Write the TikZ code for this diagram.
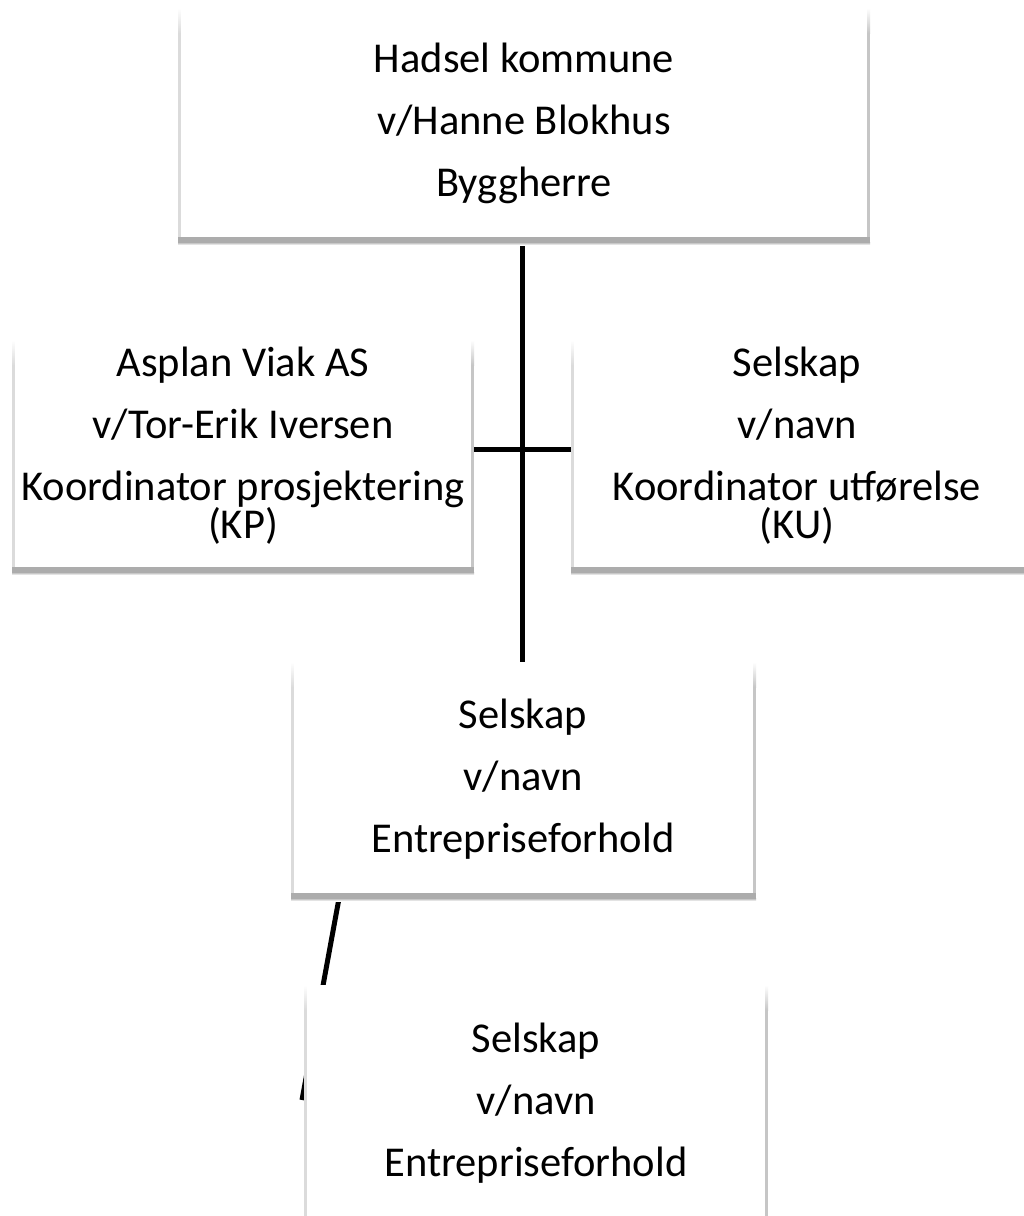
\documentclass[tikz,border=0pt]{standalone}
\usepackage{fontspec}
\setmainfont{Carlito}
\usetikzlibrary{calc}
\pgfdeclarelayer{bg}
\pgfsetlayers{bg,main}
\tikzset{
  card/.style={rectangle, fill=white, draw=none, inner sep=0pt, outer sep=0pt, anchor=north west},
  cardtext/.style={align=center, anchor=base, inner sep=0pt, font=\fontsize{42.5}{62}\selectfont},
  link/.style={line width=5pt, black},
}
\newcommand\cardedges[1]{%
  \shade[top color=white, bottom color=gray!28] (#1.north west) rectangle ($(#1.north west)+(2.5,25)$);
  \fill[gray!28] ($(#1.north west)+(0,25)$) rectangle ($(#1.south west)+(2.5,0)$);
  \shade[top color=white, bottom color=gray!45] ($(#1.north east)+(-3,0)$) rectangle ($(#1.north east)+(0,25)$);
  \fill[gray!45] ($(#1.north east)+(-3,25)$) rectangle (#1.south east);
  \fill[gray!65] (#1.south west) rectangle ($(#1.south east)+(0,5)$);
  \shade[top color=gray!65, bottom color=white] ($(#1.south west)+(0,5)$) rectangle ($(#1.south east)+(0,8)$);
}
\begin{document}
\begin{tikzpicture}[x=1pt, y=-1pt]
\useasboundingbox (0,0) rectangle (1024,1216);
\clip (0,0) rectangle (1024,1216);

% boxes
\node[card, minimum width=692pt, minimum height=229pt] (top) at (178,8) {};
\node[card, minimum width=462pt, minimum height=227pt] (left) at (12,340) {};
\node[card, minimum width=470pt, minimum height=227pt] (right) at (571,340) {};
\node[card, minimum width=465pt, minimum height=231pt] (mid) at (291,662) {};
\node[card, minimum width=464pt, minimum height=260pt] (bot) at (304,985) {};

\cardedges{top}
\cardedges{left}
\cardedges{right}
\cardedges{mid}
\cardedges{bot}

% texts (anchored at the baseline of their last line)
\node[cardtext] (toptext) at (524,196) {Hadsel kommune\\v/Hanne Blokhus\\Byggherre};
\node[cardtext] (lefttext) at (243,538) {Asplan Viak AS\\v/Tor-Erik Iversen\\Koordinator prosjektering\\[-24pt](KP)};
\node[cardtext] (righttext) at (797,538) {Selskap\\v/navn\\Koordinator utførelse\\[-24pt](KU)};
\node[cardtext] (midtext) at (523,852) {Selskap\\v/navn\\Entrepriseforhold};
\node[cardtext] (bottext) at (536,1176) {Selskap\\v/navn\\Entrepriseforhold};

% connectors behind the boxes
\coordinate (vx) at (522,0);
\coordinate (hy) at (0,449);
\coordinate (sx) at (340,0);
\coordinate (slantend) at (302,1100);
\begin{pgfonlayer}{bg}
  \fill[white] (0,0) rectangle (1024,1216);
  \draw[link] (top.south -| vx) -- (mid.north -| vx);
  \draw[link] (left.east |- hy) -- (right.west |- hy);
  \draw[link] (mid.south -| sx) -- (slantend);
\end{pgfonlayer}
\end{tikzpicture}
\end{document}
